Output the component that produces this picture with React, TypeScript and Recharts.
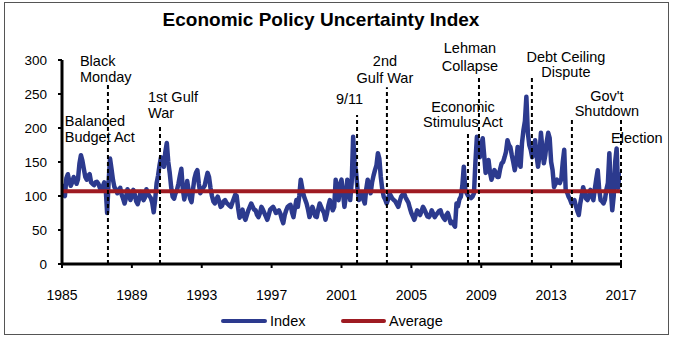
import React from "react";
import { LineChart, Line, XAxis, YAxis, ReferenceLine } from "recharts";

// Monthly index values, January 1985 onward (12 values per year)
const START_YEAR = 1985;
const INDEX_VALUES: number[] = [
  // 1985
  118, 102, 100, 126, 132, 122, 115, 120, 128, 124, 118, 125,
  // 1986
  148, 160, 152, 140, 128, 124, 130, 132, 120, 118, 116, 120,
  // 1987
  121, 118, 112, 109, 114, 120, 112, 75, 120, 155, 140, 124,
  // 1988
  113, 110, 104, 108, 112, 102, 96, 89, 98, 110, 104, 94,
  // 1989
  100, 109, 102, 92, 88, 96, 106, 100, 94, 98, 110, 104,
  // 1990
  100, 97, 90, 76, 95, 119, 130, 145, 157, 150, 143, 165,
  // 1991
  178, 150, 134, 113, 99, 96, 104, 109, 118, 130, 140, 110,
  // 1992
  95, 105, 122, 108, 96, 91, 110, 126, 134, 138, 118, 104,
  // 1993
  108, 112, 115, 125, 134, 128, 112, 100, 92, 89, 95, 99,
  // 1994
  92, 84, 86, 92, 94, 90, 88, 86, 84, 90, 96, 102,
  // 1995
  100, 82, 68, 72, 80, 70, 65, 72, 79, 84, 89, 84,
  // 1996
  80, 79, 72, 69, 75, 84, 80, 75, 70, 65, 72, 80,
  // 1997
  82, 84, 80, 75, 77, 79, 74, 66, 60, 72, 79, 84,
  // 1998
  86, 87, 76, 69, 82, 94, 84, 100, 124, 112, 101, 95,
  // 1999
  89, 80, 69, 76, 84, 78, 70, 69, 80, 89, 84, 79,
  // 2000
  75, 65, 74, 86, 94, 86, 79, 84, 124, 100, 94, 118,
  // 2001
  124, 105, 84, 100, 124, 110, 94, 120, 187, 150, 135, 110,
  // 2002
  94, 100, 104, 95, 89, 110, 124, 115, 104, 120, 130, 138,
  // 2003
  145, 163, 155, 128, 110, 99, 95, 89, 95, 104, 100, 96,
  // 2004
  94, 92, 88, 84, 92, 99, 102, 104, 98, 94, 90, 82,
  // 2005
  75, 70, 65, 72, 79, 75, 72, 78, 84, 80, 75, 70,
  // 2006
  69, 72, 79, 74, 69, 72, 75, 78, 79, 72, 68, 65,
  // 2007
  72, 75, 68, 60, 62, 58, 55, 89, 85, 95, 99, 115,
  // 2008
  143, 110, 104, 100, 99, 97, 99, 104, 150, 187, 170, 157,
  // 2009
  175, 185, 160, 134, 140, 153, 135, 124, 130, 138, 135, 128,
  // 2010
  128, 140, 148, 150, 157, 165, 182, 175, 172, 160, 150, 138,
  // 2011
  150, 172, 148, 143, 178, 197, 210, 246, 193, 175, 168, 157,
  // 2012
  165, 182, 160, 143, 160, 193, 170, 148, 160, 180, 193, 185,
  // 2013
  150, 138, 113, 118, 124, 120, 119, 125, 150, 168, 109, 105,
  // 2014
  99, 95, 89, 92, 94, 85, 78, 72, 89, 100, 113, 105,
  // 2015
  96, 94, 100, 109, 100, 94, 110, 125, 138, 110, 94, 92,
  // 2016
  89, 95, 110, 119, 163, 110, 79, 100, 150, 170, 112, 135,
];

const AVERAGE = 107;

const YEAR_TICKS = [1985, 1989, 1993, 1997, 2001, 2005, 2009, 2013, 2017];
const VALUE_TICKS = [0, 50, 100, 150, 200, 250, 300];

// Policy events: date (decimal year), label lines, height of the marker line
const EVENT_NAMES = [
  "Balanced Budget Act",
  "Black Monday",
  "1st Gulf War",
  "9/11",
  "2nd Gulf War",
  "Economic Stimulus Act",
  "Lehman Collapse",
  "Debt Ceiling Dispute",
  "Gov't Shutdown",
  "Election",
];
const EVENT_DATES = [1985.9, 1987.63, 1990.61, 2001.89, 2003.6, 2008.24, 2008.87, 2011.9, 2014.19, 2017.0];
const EVENT_TOPS = [200, 266, 204, 219, 260, 193, 278, 278, 215, 215];
const EVENT_LINES: string[][] = [
  ["Balanced", "Budget Act"],
  ["Black", "Monday"],
  ["1st Gulf", "War"],
  ["9/11"],
  ["2nd", "Gulf War"],
  ["Economic", "Stimulus Act"],
  ["Lehman", "Collapse"],
  ["Debt Ceiling", "Dispute"],
  ["Gov't", "Shutdown"],
  ["Election"],
];
const EVENT_HAS_MARKER = [false, true, true, true, true, true, true, true, true, true];

// Where each event's caption sits relative to the top of its marker line
const LABEL_LAYOUT: Record<string, { anchor: "start" | "middle" | "end"; dx: number; dy: number[] }> = {
  "Balanced Budget Act": { anchor: "start", dx: -13, dy: [-2, 14] },
  "Black Monday": { anchor: "start", dx: -28, dy: [-17, -1] },
  "1st Gulf War": { anchor: "start", dx: -12, dy: [-23, -7] },
  "9/11": { anchor: "end", dx: 6, dy: [-11] },
  "2nd Gulf War": { anchor: "middle", dx: -2, dy: [-21, -4] },
  "Economic Stimulus Act": { anchor: "middle", dx: -5, dy: [-21, -6] },
  "Lehman Collapse": { anchor: "middle", dx: -9, dy: [-22, -4] },
  "Debt Ceiling Dispute": { anchor: "middle", dx: 34, dy: [-13, 2] },
  "Gov't Shutdown": { anchor: "middle", dx: 35, dy: [-17, -2] },
  Election: { anchor: "start", dx: -10, dy: [25] },
};

const FONT = "'Liberation Sans', Arial, Helvetica, sans-serif";
const INDEX_COLOR = "#2c3a8e";
const AVERAGE_COLOR = "#9e1b22";

const chartData = INDEX_VALUES.map((v, i) => ({
  t: START_YEAR + i / 12,
  index: v,
}));

const events = EVENT_NAMES.map((name, i) => ({
  name,
  date: EVENT_DATES[i],
  top: EVENT_TOPS[i],
  lines: EVENT_LINES[i],
  marker: EVENT_HAS_MARKER[i],
}));

function makeEventLabel(name: string, lines: string[]) {
  const layout = LABEL_LAYOUT[name];
  return function EventLabel(props: any) {
    const vb = props.viewBox || {};
    const x = (vb.x ?? 0) + layout.dx;
    const y = vb.y ?? 0;
    return (
      <text textAnchor={layout.anchor} fontFamily={FONT} fontSize={14.5} fill="#000">
        {lines.map((line, k) => (
          <tspan key={k} x={x} y={y + layout.dy[k]}>
            {line}
          </tspan>
        ))}
      </text>
    );
  };
}

function LegendItem({ color, label, left, lineWidth }: { color: string; label: string; left: number; lineWidth: number }) {
  return (
    <div style={{ position: "absolute", left, top: 312, height: 18, display: "flex", alignItems: "center" }}>
      <div style={{ width: lineWidth, height: 4.5, borderRadius: 3, background: color, marginRight: 3 }} />
      <span style={{ fontFamily: FONT, fontSize: 14.5, color: "#000", lineHeight: "18px" }}>{label}</span>
    </div>
  );
}

export default function App() {
  return (
    <div style={{ position: "absolute", left: 0, top: 0, width: 674, height: 339, background: "#fff", overflow: "hidden" }}>
      <div
        style={{
          position: "absolute",
          left: 4,
          top: 2,
          width: 663,
          height: 331,
          border: "1px solid #555",
        }}
      />
      <div
        style={{
          position: "absolute",
          left: 0,
          top: 9,
          width: 642,
          textAlign: "center",
          fontFamily: FONT,
          fontWeight: "bold",
          fontSize: 19,
          lineHeight: "22px",
          color: "#000",
        }}
      >
        Economic Policy Uncertainty Index
      </div>
      <div style={{ position: "absolute", left: 0, top: 0 }}>
        <LineChart width={674} height={339} data={chartData} margin={{ top: 60, right: 53, left: 0, bottom: 45 }}>
          <XAxis
            dataKey="t"
            type="number"
            domain={[1985, 2017]}
            ticks={YEAR_TICKS}
            interval={0}
            allowDataOverflow
            height={30}
            tickSize={4}
            tickMargin={22}
            axisLine={{ stroke: "#000", strokeWidth: 3 }}
            tickLine={{ stroke: "#000", strokeWidth: 2 }}
            tick={{ fill: "#000", fontSize: 14, fontFamily: FONT }}
          />
          <YAxis
            type="number"
            domain={[0, 300]}
            ticks={VALUE_TICKS}
            interval={0}
            width={62}
            tickSize={4}
            tickMargin={11}
            axisLine={{ stroke: "#000", strokeWidth: 3 }}
            tickLine={{ stroke: "#000", strokeWidth: 2 }}
            tick={{ fill: "#000", fontSize: 13.5, fontFamily: FONT }}
          />
          <Line
            type="linear"
            dataKey="index"
            stroke={INDEX_COLOR}
            strokeWidth={4.5}
            strokeLinejoin="round"
            dot={false}
            activeDot={false}
            isAnimationActive={false}
          />
          <ReferenceLine y={AVERAGE} stroke={AVERAGE_COLOR} strokeWidth={4} />
          {events.map((ev) => (
            <ReferenceLine
              key={ev.name}
              ifOverflow="visible"
              segment={[
                { x: ev.date, y: 0 },
                { x: ev.date, y: ev.top },
              ]}
              stroke={ev.marker ? "#000" : "none"}
              strokeWidth={2}
              strokeDasharray="4 3"
              label={makeEventLabel(ev.name, ev.lines)}
            />
          ))}
        </LineChart>
      </div>
      <LegendItem color={INDEX_COLOR} label="Index" left={221} lineWidth={46} />
      <LegendItem color={AVERAGE_COLOR} label="Average" left={341} lineWidth={45} />
    </div>
  );
}
